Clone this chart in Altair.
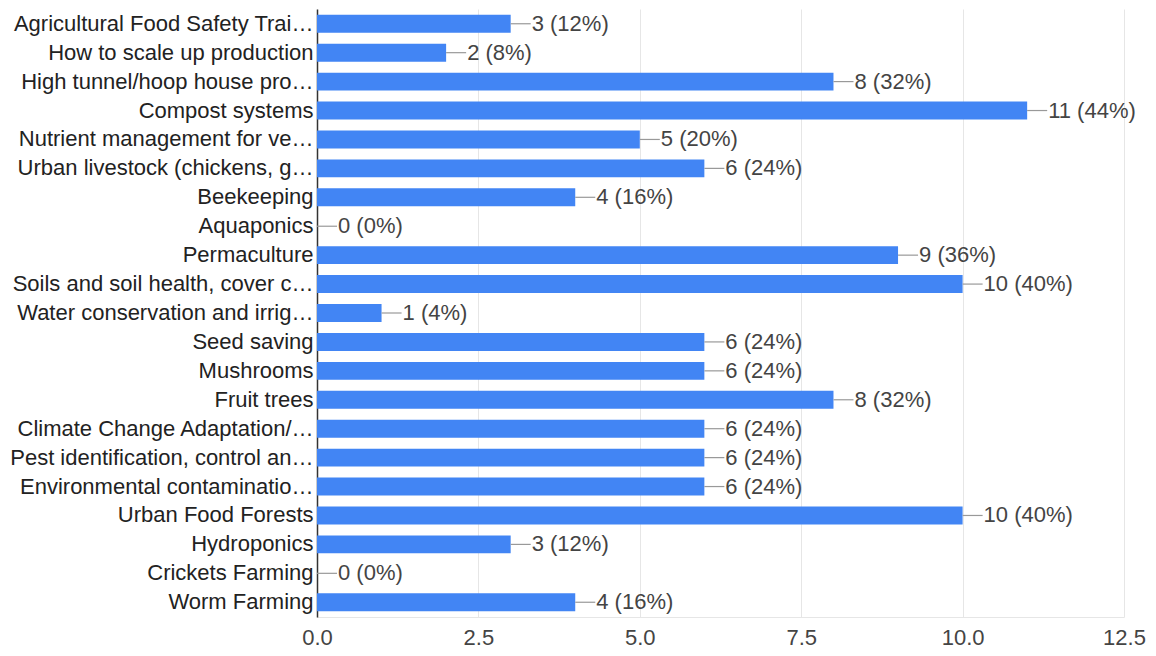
import altair as alt
import pandas as pd

categories = [
    "Agricultural Food Safety Trai…",
    "How to scale up production",
    "High tunnel/hoop house pro…",
    "Compost systems",
    "Nutrient management for ve…",
    "Urban livestock (chickens, g…",
    "Beekeeping",
    "Aquaponics",
    "Permaculture",
    "Soils and soil health, cover c…",
    "Water conservation and irrig…",
    "Seed saving",
    "Mushrooms",
    "Fruit trees",
    "Climate Change Adaptation/…",
    "Pest identification, control an…",
    "Environmental contaminatio…",
    "Urban Food Forests",
    "Hydroponics",
    "Crickets Farming",
    "Worm Farming",
]
counts = [3, 2, 8, 11, 5, 6, 4, 0, 9, 10, 1, 6, 6, 8, 6, 6, 6, 10, 3, 0, 4]
respondents = 25

df = pd.DataFrame({"cat": categories, "n": counts})
df["label"] = [f"{v} ({round(v / respondents * 100)}%)" for v in counts]

FONT = "Liberation Sans"
FS = 22
y_enc = alt.Y("cat:N", sort=categories, title=None,
              scale=alt.Scale(paddingInner=0.38, paddingOuter=0.2),
              axis=alt.Axis(labelFontSize=FS, labelColor="#222222", labelFont=FONT,
                            labelLimit=400, ticks=False, labelPadding=4,
                            domain=True, domainColor="#333333", domainWidth=1.5))
x_scale = alt.Scale(domain=[0, 12.5], nice=False)

base = alt.Chart(df)

bars = base.mark_bar(color="#4285F4").encode(
    x=alt.X("n:Q", scale=x_scale, title=None,
            axis=alt.Axis(values=[0, 2.5, 5, 7.5, 10, 12.5], format=".1f",
                          labelFontSize=FS, labelColor="#444444", labelFont=FONT,
                          ticks=False, labelPadding=10, domain=True,
                          domainColor="#e6e6e6", gridColor="#e6e6e6",
                          labelFlush=False)),
    y=y_enc,
)

leader = base.transform_calculate(n2="datum.n + 0.31").mark_rule(
    color="#999999", strokeWidth=1.2
).encode(x=alt.X("n:Q", scale=x_scale), x2="n2:Q", y=alt.Y("cat:N", sort=categories, bandPosition=0.5))

text = base.transform_calculate(n2="datum.n + 0.31").mark_text(
    align="left", baseline="middle", fontSize=FS, color="#444444", font=FONT, dx=1
).encode(x=alt.X("n2:Q", scale=x_scale), y=alt.Y("cat:N", sort=categories), text="label:N")

chart = alt.layer(bars, leader, text).properties(
    width=807, height=608,
    autosize=alt.AutoSizeParams(type="none"),
    padding={"left": 309, "top": 1, "right": 24, "bottom": 31},
).configure_view(stroke=None).configure_axis(gridWidth=1)

chart.save("out.html", embed_options={"renderer": "svg", "actions": False})
